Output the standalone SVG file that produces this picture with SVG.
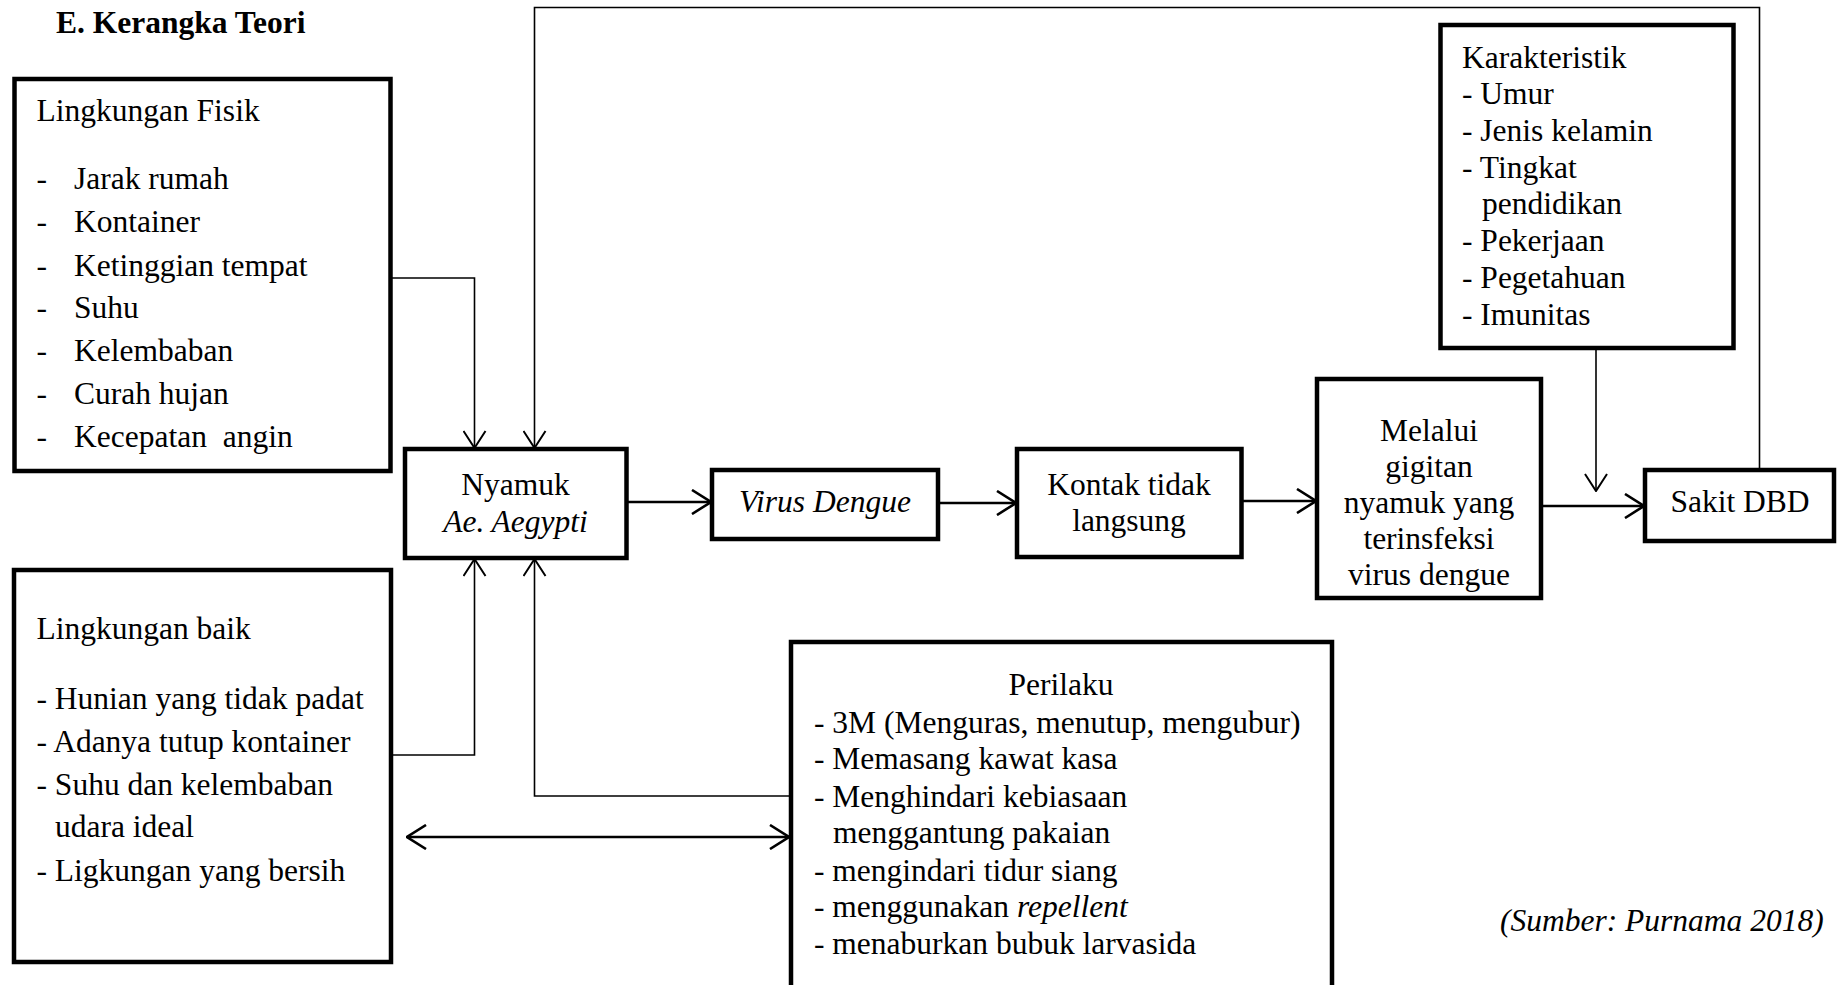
<svg xmlns="http://www.w3.org/2000/svg" width="1838" height="985" viewBox="0 0 1838 985">
<style>
text{font-family:"Liberation Serif","Times New Roman",serif;font-size:31.5px;fill:#000}
.t{font-weight:bold}
.i{font-style:italic}
.c{text-anchor:middle}
.box{fill:#fff;stroke:#000;stroke-width:4.5}
.ln{fill:none;stroke:#000;stroke-width:1.6}
.lt{fill:none;stroke:#000;stroke-width:2.6}
</style>
<defs>
<marker id="ah" markerUnits="userSpaceOnUse" viewBox="0 0 20 24" refX="19" refY="12" markerWidth="20" markerHeight="24" orient="auto-start-reverse">
<path d="M2,1 L19,12 L2,23" fill="none" stroke="#000" stroke-width="2"/>
</marker>
<marker id="ah2" markerUnits="userSpaceOnUse" viewBox="0 0 22 26" refX="21" refY="13" markerWidth="22" markerHeight="26" orient="auto-start-reverse">
<path d="M2,1 L21,13 L2,25" fill="none" stroke="#000" stroke-width="2.6"/>
</marker>
</defs>
<rect width="1838" height="985" fill="#fff"/>
<text class="t" x="56" y="33">E. Kerangka Teori</text>

<g id="connectors">
<polyline class="ln" points="390,278 474.5,278 474.5,448" marker-end="url(#ah)"/>
<polyline class="ln" points="1759.5,470 1759.5,7.5 534.5,7.5 534.5,448" marker-end="url(#ah)"/>
<polyline class="ln" points="391,755 474.5,755 474.5,559" marker-end="url(#ah)"/>
<polyline class="ln" points="791,796 534.5,796 534.5,559" marker-end="url(#ah)"/>
<line class="lt" x1="407" y1="837" x2="789" y2="837" marker-start="url(#ah2)" marker-end="url(#ah2)"/>
<line class="ln" x1="1596" y1="348" x2="1596" y2="491" marker-end="url(#ah)"/>
<line class="lt" x1="626" y1="502" x2="711" y2="502" marker-end="url(#ah2)"/>
<line class="lt" x1="938" y1="503" x2="1016" y2="503" marker-end="url(#ah2)"/>
<line class="lt" x1="1241" y1="501" x2="1316" y2="501" marker-end="url(#ah2)"/>
<line class="lt" x1="1541" y1="506" x2="1644" y2="506" marker-end="url(#ah2)"/>
</g>

<g id="lingkungan-fisik">
<rect class="box" x="14.5" y="79" width="376" height="392"/>
<text x="36.5" y="121">Lingkungan Fisik</text>
<text x="36.5" y="189">-</text><text x="74" y="189">Jarak rumah</text>
<text x="36.5" y="232">-</text><text x="74" y="232">Kontainer</text>
<text x="36.5" y="276">-</text><text x="74" y="276">Ketinggian tempat</text>
<text x="36.5" y="318">-</text><text x="74" y="318">Suhu</text>
<text x="36.5" y="361">-</text><text x="74" y="361">Kelembaban</text>
<text x="36.5" y="404">-</text><text x="74" y="404">Curah hujan</text>
<text x="36.5" y="447">-</text><text x="74" y="447" xml:space="preserve">Kecepatan  angin</text>
</g>

<g id="lingkungan-baik">
<rect class="box" x="14" y="570" width="377" height="392"/>
<text x="36.5" y="639">Lingkungan baik</text>
<text x="36.5" y="709">- Hunian yang tidak padat</text>
<text x="36.5" y="752">- Adanya tutup kontainer</text>
<text x="36.5" y="795">- Suhu dan kelembaban</text>
<text x="55" y="837">udara ideal</text>
<text x="36.5" y="881">- Ligkungan yang bersih</text>
</g>

<g id="nyamuk">
<rect class="box" x="405" y="449" width="221.5" height="109"/>
<text class="c" x="515.5" y="495">Nyamuk</text>
<text class="c i" x="515.5" y="532">Ae. Aegypti</text>
</g>

<g id="virus-dengue">
<rect class="box" x="712" y="470" width="226" height="69"/>
<text class="c i" x="825" y="512">Virus Dengue</text>
</g>

<g id="kontak">
<rect class="box" x="1017" y="449" width="224.5" height="108"/>
<text class="c" x="1129" y="495">Kontak tidak</text>
<text class="c" x="1129" y="531">langsung</text>
</g>

<g id="melalui">
<rect class="box" x="1317" y="379" width="224" height="219"/>
<text class="c" x="1429" y="441">Melalui</text>
<text class="c" x="1429" y="477">gigitan</text>
<text class="c" x="1429" y="513">nyamuk yang</text>
<text class="c" x="1429" y="549">terinsfeksi</text>
<text class="c" x="1429" y="585">virus dengue</text>
</g>

<g id="sakit-dbd">
<rect class="box" x="1645" y="470" width="189" height="71"/>
<text class="c" x="1740" y="512">Sakit DBD</text>
</g>

<g id="karakteristik">
<rect class="box" x="1440.5" y="25" width="293" height="323"/>
<text x="1462" y="68">Karakteristik</text>
<text x="1462" y="104">- Umur</text>
<text x="1462" y="141">- Jenis kelamin</text>
<text x="1462" y="178">- Tingkat</text>
<text x="1482" y="214">pendidikan</text>
<text x="1462" y="251">- Pekerjaan</text>
<text x="1462" y="288">- Pegetahuan</text>
<text x="1462" y="325">- Imunitas</text>
</g>

<g id="perilaku">
<rect class="box" x="791" y="642" width="541" height="360"/>
<text class="c" x="1061" y="695">Perilaku</text>
<text x="814" y="733">- 3M (Menguras, menutup, mengubur)</text>
<text x="814" y="769">- Memasang kawat kasa</text>
<text x="814" y="807">- Menghindari kebiasaan</text>
<text x="833" y="843">menggantung pakaian</text>
<text x="814" y="881">- mengindari tidur siang</text>
<text x="814" y="917">- menggunakan <tspan class="i">repellent</tspan></text>
<text x="814" y="954">- menaburkan bubuk larvasida</text>
</g>

<text class="i" x="1500" y="931">(Sumber: Purnama 2018)</text>
</svg>
